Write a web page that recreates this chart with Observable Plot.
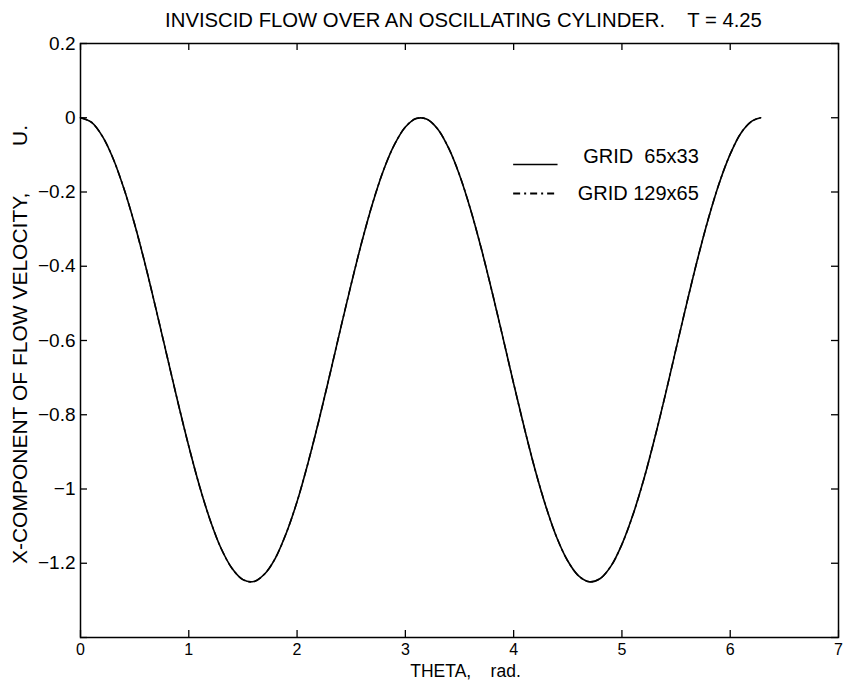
<!DOCTYPE html>
<html>
<head>
<meta charset="utf-8">
<script src="https://cdn.jsdelivr.net/npm/d3@7"></script>
<script src="https://cdn.jsdelivr.net/npm/@observablehq/plot@0.6"></script>
<style>
  html, body { margin: 0; padding: 0; background: #fff; }
  #chart svg { display: block; }
</style>
</head>
<body>
<div id="chart"></div>
<script>
// ---------- data ----------
const theta = [0.0,0.1,0.2,0.3,0.4,0.5,0.6,0.7,0.8,0.9,1.0,1.1,1.2,1.3,1.4,1.5,1.6,1.7,1.8,1.9,
  2.0,2.1,2.2,2.3,2.4,2.5,2.6,2.7,2.8,2.9,3.0,3.1,3.2,3.3,3.4,3.5,3.6,3.7,3.8,3.9,
  4.0,4.1,4.2,4.3,4.4,4.5,4.6,4.7,4.8,4.9,5.0,5.1,5.2,5.3,5.4,5.5,5.6,5.7,5.8,5.9,
  6.0,6.1,6.2,6.28];
const uGrid65 = [0,-0.012,-0.049,-0.109,-0.190,-0.287,-0.398,-0.519,-0.643,-0.767,-0.885,-0.993,-1.086,-1.161,-1.214,-1.244,-1.249,-1.229,-1.186,-1.119,
  -1.034,-0.931,-0.817,-0.695,-0.570,-0.448,-0.332,-0.228,-0.140,-0.072,-0.025,-0.002,-0.004,-0.031,-0.082,-0.154,-0.245,-0.351,-0.468,-0.591,
  -0.716,-0.837,-0.950,-1.049,-1.132,-1.194,-1.234,-1.250,-1.241,-1.207,-1.149,-1.071,-0.976,-0.866,-0.747,-0.622,-0.498,-0.379,-0.270,-0.175,
  -0.098,-0.041,-0.009,0];
const uGrid129 = [0,-0.012,-0.049,-0.109,-0.190,-0.287,-0.398,-0.519,-0.643,-0.767,-0.885,-0.993,-1.086,-1.161,-1.214,-1.244,-1.250,-1.229,-1.186,-1.119,
  -1.034,-0.931,-0.817,-0.695,-0.570,-0.448,-0.332,-0.228,-0.140,-0.072,-0.025,-0.002,-0.004,-0.031,-0.082,-0.154,-0.245,-0.351,-0.468,-0.591,
  -0.716,-0.837,-0.950,-1.049,-1.132,-1.194,-1.234,-1.250,-1.241,-1.207,-1.149,-1.071,-0.976,-0.866,-0.747,-0.622,-0.498,-0.379,-0.270,-0.175,
  -0.098,-0.041,-0.009,0];
const seriesNames = ["GRID  65x33", "GRID 129x65"];
const xTicks = [0,1,2,3,4,5,6,7];
const xTickLabels = ["0","1","2","3","4","5","6","7"];
const yTicks = [0.2,0,-0.2,-0.4,-0.6,-0.8,-1,-1.2,-1.4];
const yTickLabels = ["0.2","0","−0.2","−0.4","−0.6","−0.8","−1","−1.2",""];
const titleText = "INVISCID FLOW OVER AN OSCILLATING CYLINDER.    T = 4.25";
const xLabel = "THETA,    rad.";
const yLabel = "X-COMPONENT OF FLOW VELOCITY,        U.";

// ---------- layout / style ----------
const W = 844, H = 690;
const mL = 80, mR = 6, mT = 43, mB = 53;
const innerW = W - mL - mR, innerH = H - mT - mB;
const tickLen = 7;
const font = "'Liberation Sans', Arial, Helvetica, sans-serif";

const rows65 = theta.map((t, i) => ({t, u: uGrid65[i]}));
const rows129 = theta.map((t, i) => ({t, u: uGrid129[i]}));

// legend layout (in data units of the plot)
const legendSolid = [{y: -0.126}];
const legendDash = [{y: -0.204}];
const legendText = [
  {name: seriesNames[0], y: -0.104},
  {name: seriesNames[1], y: -0.204}
];
const legendX1 = 4.0, legendX2 = 4.41, legendTextX = 5.71;

const yLabelOf = new Map(yTicks.map((v, i) => [v, yTickLabels[i]]));
const xLabelOf = new Map(xTicks.map((v, i) => [v, xTickLabels[i]]));

const chart = Plot.plot({
  width: W, height: H,
  marginLeft: mL, marginRight: mR, marginTop: mT, marginBottom: mB,
  style: {fontFamily: font, fontSize: "18px", color: "#000", background: "#fff"},
  x: {domain: [0, 7], axis: null},
  y: {domain: [-1.4, 0.2], axis: null},
  marks: [
    // inward ticks on all four sides
    Plot.tickX(xTicks, {x: d => d, insetTop: innerH - tickLen, stroke: "#000", strokeWidth: 1.3}),
    Plot.tickX(xTicks, {x: d => d, insetBottom: innerH - tickLen, stroke: "#000", strokeWidth: 1.3}),
    Plot.tickY(yTicks, {y: d => d, insetRight: innerW - tickLen, stroke: "#000", strokeWidth: 1.3}),
    Plot.tickY(yTicks, {y: d => d, insetLeft: innerW - tickLen, stroke: "#000", strokeWidth: 1.3}),
    Plot.frame({stroke: "#000", strokeWidth: 1.5}),
    // tick labels
    Plot.axisX(xTicks, {tickSize: 0, tickPadding: 6, label: null, fontSize: 16,
      tickFormat: d => xLabelOf.get(d)}),
    Plot.axisY(yTicks.filter((d, i) => yTickLabels[i] !== ""), {tickSize: 0, tickPadding: 5, label: null, fontSize: 19,
      tickFormat: d => yLabelOf.get(d)}),
    // curves
    Plot.line(rows129, {x: "t", y: "u", stroke: "#000", strokeWidth: 1.5, strokeDasharray: "7,4,2,4", curve: "catmull-rom"}),
    Plot.line(rows65, {x: "t", y: "u", stroke: "#000", strokeWidth: 1.6, curve: "catmull-rom"}),
    // legend
    Plot.ruleY(legendSolid, {y: "y", x1: legendX1, x2: legendX2, stroke: "#000", strokeWidth: 1.5}),
    Plot.ruleY(legendDash, {y: "y", x1: legendX1, x2: legendX2, stroke: "#000", strokeWidth: 1.8, strokeDasharray: "7,4,2,4"}),
    Plot.text(legendText, {x: legendTextX, y: "y", text: "name", textAnchor: "end", fontSize: 20,
      lineAnchor: "middle", fill: "#000"}),
    // title and axis labels
    Plot.text([titleText], {frameAnchor: "top", dx: 4, dy: -23, lineAnchor: "middle", fontSize: 20.3, fill: "#000"}),
    Plot.text([xLabel], {frameAnchor: "bottom", dx: 6, dy: 34, lineAnchor: "middle", fontSize: 17.5, fill: "#000"}),
    Plot.text([yLabel], {frameAnchor: "left", dx: -60, dy: 4, rotate: -90, textAnchor: "middle", lineAnchor: "middle", fontSize: 21, fill: "#000"})
  ]
});

// keep whitespace in multi-space labels
chart.querySelectorAll("text").forEach(t => t.setAttribute("xml:space", "preserve"));
chart.style.whiteSpace = "pre";
document.getElementById("chart").appendChild(chart);
</script>
</body>
</html>
